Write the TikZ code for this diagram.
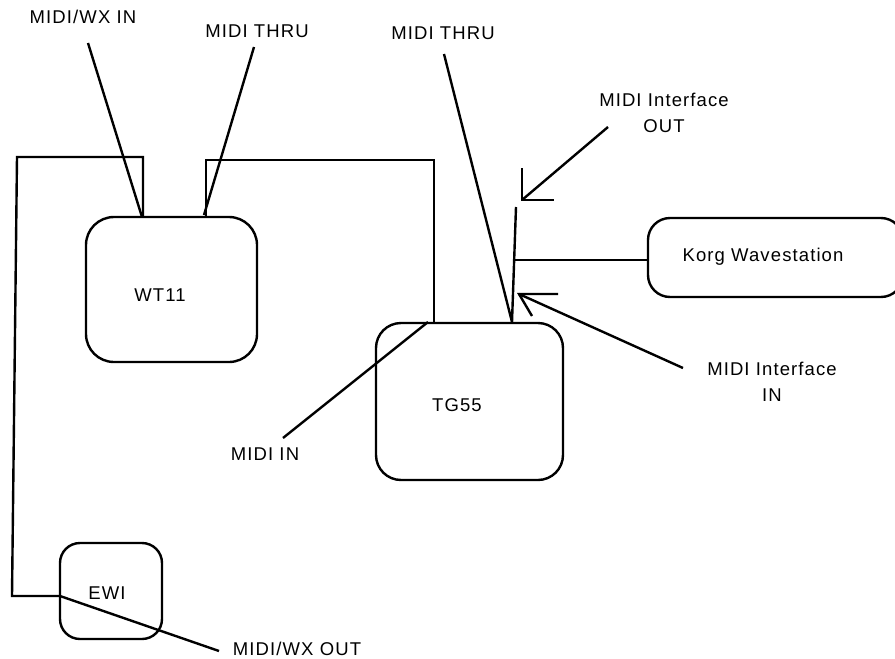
\documentclass[tikz,border=0pt]{standalone}
\usepackage{fontspec}
\setmainfont{Liberation Sans}[LetterSpace=6]
\begin{document}
\begin{tikzpicture}[x=1pt,y=-1pt,
  wire/.style={line width=2.4pt},
  devbox/.style={draw,line width=2.4pt,inner sep=0pt,outer sep=0pt},
  lab/.style={inner sep=0pt,font=\fontsize{18.5}{26}\selectfont,align=center}]
\useasboundingbox (0,0) rectangle (895,659);
\clip (0,0) rectangle (895,659);
% devices
\node[devbox,minimum width=171pt,minimum height=145pt,rounded corners=28pt] (wt) at (171.5,289.5) {};
\node[devbox,minimum width=187pt,minimum height=157pt,rounded corners=25pt] (tg) at (469.5,401.5) {};
\node[devbox,minimum width=102pt,minimum height=96pt,rounded corners=20pt] (ewi) at (111,591) {};
\node[devbox,minimum width=255pt,minimum height=79pt,rounded corners=22pt] (korg) at (775.5,257.5) {};
\node[lab] (wtl) at (160,295) {WT11};
\node[lab] (tgl) at (457,405) {TG55};
\node[lab] (ewil) at (107,593) {EWI};
\node[lab] (korgl) at (763,257) {Korg Wavestation};
% labels
\node[lab] (l1) at (83,17) {MIDI/WX IN};
\node[lab] (l2) at (257,31) {MIDI THRU};
\node[lab] (l3) at (443,33) {MIDI THRU};
\node[lab] (l4) at (664,113) {MIDI Interface\\OUT};
\node[lab] (l5) at (772,382) {MIDI Interface\\IN};
\node[lab] (l6) at (265,454) {MIDI IN};
\node[lab] (l7) at (297,649) {MIDI/WX OUT};
% coordinates
\coordinate (a1) at (143,157);
\coordinate (a2) at (17,157);
\coordinate (a3) at (12,596);
\coordinate (b1) at (206,160);
\coordinate (b2) at (434,160);
\coordinate (p1s) at (88,43);   \coordinate (p1e) at (142,217);
\coordinate (p2s) at (254,47);  \coordinate (p2e) at (204,215);
\coordinate (p3s) at (444,54);  \coordinate (p3e) at (512,322);
\coordinate (p6s) at (283,438); \coordinate (p6e) at (428,322);
\coordinate (p7s) at (60,596);  \coordinate (p7e) at (219,651);
\coordinate (vt) at (516,207);
\coordinate (kv) at (514,260);
\coordinate (os) at (608,127); \coordinate (ot) at (522,200);
\coordinate (oa) at (522,168); \coordinate (ob) at (554,200);
\coordinate (is) at (683,368); \coordinate (it) at (519,294);
\coordinate (ia) at (558,294); \coordinate (ib) at (532,316);
% wires
\draw[wire] (wt.north -| a1) -- (a1) -- (a2) -- (a3) -- (ewi.west |- a3);
\draw[wire] (wt.north -| b1) -- (b1) -- (b2) -- (tg.north -| b2);
\draw[wire] (vt) -- (p3e);
\draw[wire] (kv) -- (korg.west |- kv);
% pointers
\draw[wire] (p1s) -- (p1e);
\draw[wire] (p2s) -- (p2e);
\draw[wire] (p3s) -- (p3e);
\draw[wire] (p6s) -- (p6e);
\draw[wire] (p7s) -- (p7e);
\draw[wire] (os) -- (ot);
\draw[wire] (oa) -- (ot) -- (ob);
\draw[wire] (is) -- (it);
\draw[wire] (ia) -- (it) -- (ib);
\end{tikzpicture}
\end{document}
